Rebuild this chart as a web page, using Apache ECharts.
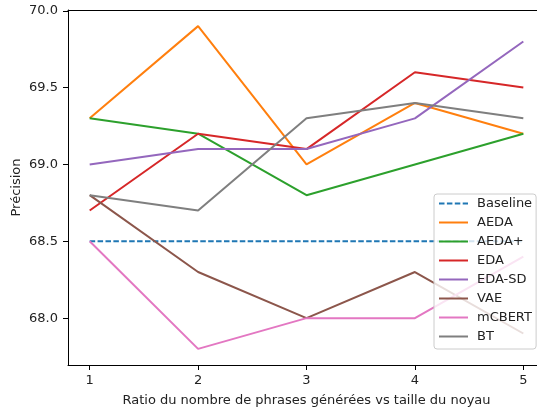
<!DOCTYPE html>
<html>
<head>
<meta charset="utf-8">
<script src="https://cdn.jsdelivr.net/npm/echarts@6/dist/echarts.min.js"></script>
<style>html,body{margin:0;padding:0;background:#fff;overflow:hidden}#c{width:537px;height:411px}</style>
</head>
<body>
<div id="c"></div>
<script>
const ratios = [1, 2, 3, 4, 5];
const baseline = [68.5, 68.5, 68.5, 68.5, 68.5];
const aeda = [69.3, 69.9, 69.0, 69.4, 69.2];
const aedaPlus = [69.3, 69.2, 68.8, 69.0, 69.2];
const eda = [68.7, 69.2, 69.1, 69.6, 69.5];
const edaSd = [69.0, 69.1, 69.1, 69.3, 69.8];
const vae = [68.8, 68.3, 68.0, 68.3, 67.9];
const mcbert = [68.5, 67.8, 68.0, 68.0, 68.4];
const bt = [68.8, 68.7, 69.3, 69.4, 69.3];
const yTicks = [68.0, 68.5, 69.0, 69.5, 70.0];
const xTicks = [1, 2, 3, 4, 5];

const seriesDefs = [
  ['Baseline', baseline, '#1f77b4', true],
  ['AEDA', aeda, '#ff7f0e', false],
  ['AEDA+', aedaPlus, '#2ca02c', false],
  ['EDA', eda, '#d62728', false],
  ['EDA-SD', edaSd, '#9467bd', false],
  ['VAE', vae, '#8c564b', false],
  ['mCBERT', mcbert, '#e377c2', false],
  ['BT', bt, '#7f7f7f', false]
];

const font = 'DejaVu Sans';
const chart = echarts.init(document.getElementById('c'), null, {renderer: 'canvas'});
chart.setOption({
  animation: false,
  backgroundColor: '#fff',
  textStyle: {fontFamily: font},
  grid: {left: 68, top: 10, right: -8, bottom: 46, containLabel: false, outerBoundsMode: 'none', show: false},
  xAxis: [{
    type: 'value', min: 0.8, max: 5.2,
    name: 'Ratio du nombre de phrases générées vs taille du noyau',
    nameLocation: 'middle', nameGap: 29,
    nameTextStyle: {fontFamily: font, fontSize: 13, color: '#222'},
    axisLine: {show: true, onZero: false, lineStyle: {color: '#000', width: 1}},
    axisTick: {show: true, inside: false, length: 5, lineStyle: {color: '#000'}, customValues: xTicks},
    axisLabel: {show: true, margin: 9, fontFamily: font, fontSize: 13, color: '#222', customValues: xTicks},
    splitLine: {show: false}
  }, {
    type: 'value', min: 0.8, max: 5.2, position: 'top',
    axisLine: {show: true, onZero: false, lineStyle: {color: '#000', width: 1}},
    axisTick: {show: false}, axisLabel: {show: false}, splitLine: {show: false}
  }],
  yAxis: {
    type: 'value', min: 67.695, max: 70.005,
    name: 'Précision',
    nameLocation: 'middle', nameGap: 45, nameRotate: 90, nameMoveOverlap: false,
    nameTextStyle: {fontFamily: font, fontSize: 13, color: '#222'},
    axisLine: {show: true, onZero: false, lineStyle: {color: '#000', width: 1}},
    axisTick: {show: true, inside: false, length: 5, lineStyle: {color: '#000'}, customValues: yTicks},
    axisLabel: {show: true, margin: 10, fontFamily: font, fontSize: 13, color: '#222', customValues: yTicks,
      formatter: v => Number(v).toFixed(1)},
    splitLine: {show: false}
  },
  legend: {
    orient: 'vertical', left: 434, top: 194,
    padding: [3, 4, 6, 4],
    itemWidth: 29, itemHeight: 14, itemGap: 6,
    itemStyle: {opacity: 0, borderWidth: 0},
    backgroundColor: 'rgba(255,255,255,0.8)',
    borderColor: '#cccccc', borderWidth: 1, borderRadius: 3,
    textStyle: {fontFamily: font, fontSize: 13, color: '#222', padding: [0, 0, 0, 4]},
    data: seriesDefs.map(d => d[0])
  },
  series: seriesDefs.map(([name, vals, color, dashed]) => ({
    name: name, type: 'line',
    data: ratios.map((x, i) => [x, vals[i]]),
    symbol: 'none', showSymbol: false,
    color: color,
    lineStyle: {color: color, width: 2, type: dashed ? [5.5, 2.4] : 'solid'},
    emphasis: {disabled: true},
    z: 2
  }))
});
</script>
</body>
</html>
